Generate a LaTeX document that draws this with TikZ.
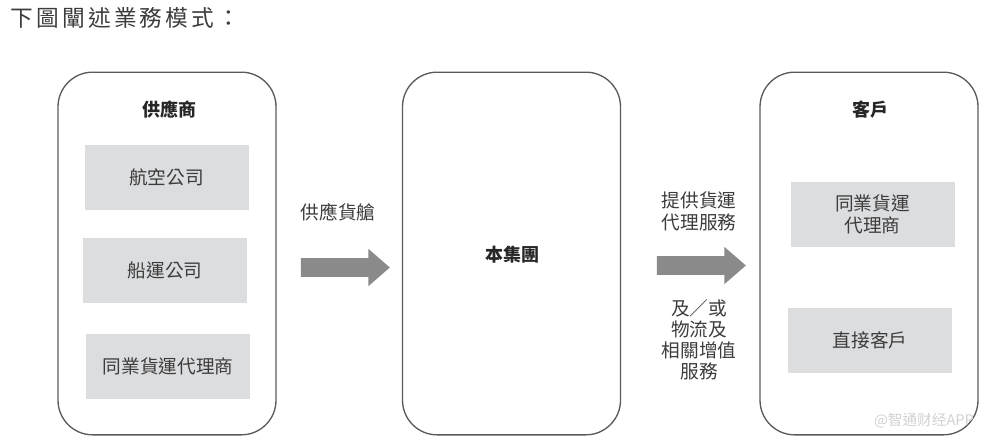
\documentclass[tikz,border=0pt]{standalone}
\usepackage{fontspec}
\setmainfont{Noto Sans CJK TC}
\usepackage{xcolor}
\usetikzlibrary{shapes.arrows}
\definecolor{boxgray}{HTML}{DCDDDF}
\definecolor{arrowgray}{HTML}{8A8A8A}
\definecolor{textgray}{HTML}{3C3C3C}
\definecolor{linegray}{HTML}{5A5A5A}

\begin{document}
\begin{tikzpicture}[x=0.75pt,y=-0.75pt]
        \tikzset{outer style/.style = {draw=linegray, line width=1pt, rounded corners=26pt, minimum width=163.5pt, minimum height=272pt},
            inner style/.style = {fill=boxgray, minimum width=123pt, minimum height=48.75pt, text=textgray, align=center, font=\fontsize{14}{16.5}\selectfont},
            head style/.style = {text=black!85, font=\fontsize{13.5}{16}\selectfont\bfseries},
            label style/.style = {text=textgray, align=center, font=\fontsize{14}{16.5}\selectfont},
            arrow style/.style = {single arrow, fill=arrowgray, inner xsep=0pt, inner ysep=6.75pt, minimum height=66.75pt, single arrow head extend=7pt, single arrow tip angle=82}}
        \useasboundingbox (0,0) rectangle (987,440);
        \node[anchor=west, text=textgray, font=\fontsize{17}{20}\selectfont\addfontfeature{LetterSpace=14}] (title) at (6,18) {下圖闡述業務模式：};
        \node[outer style] (sup) at (167,253.5) {};
        \node[outer style] (grp) at (511.5,253.5) {};
        \node[outer style] (cus) at (869,253.5) {};
        \node[head style] (suphead) at (169,110) {供應商};
        \node[head style] (grphead) at (512,255) {本集團};
        \node[head style] (cushead) at (870,110) {客戶};
        \node[inner style] (air) at (166.5,177) {航空公司};
        \node[inner style] (sea) at (165,270.5) {船運公司};
        \node[inner style] (fwdA) at (168,366) {同業貨運代理商};
        \node[inner style] (fwdB) at (872.5,214.5) {同業貨運\\代理商};
        \node[inner style] (direct) at (870,340.5) {直接客戶};
        \node[arrow style] (arrowA) at (340,267.5) {};
        \node[arrow style] (arrowB) at (696,265.5) {};
        \node[label style] (spaceA) at (338,212) {供應貨艙};
        \node[label style] (servA) at (699,211) {提供貨運\\代理服務};
        \node[label style, font=\fontsize{14}{15.8}\selectfont] (servB) at (699,340) {及／或\\物流及\\相關增值\\服務};
        \node[text=black!18, font=\fontsize{11}{13}\selectfont] (mark) at (924,421) {@智通财经APP};
    \end{tikzpicture}
\end{document}
